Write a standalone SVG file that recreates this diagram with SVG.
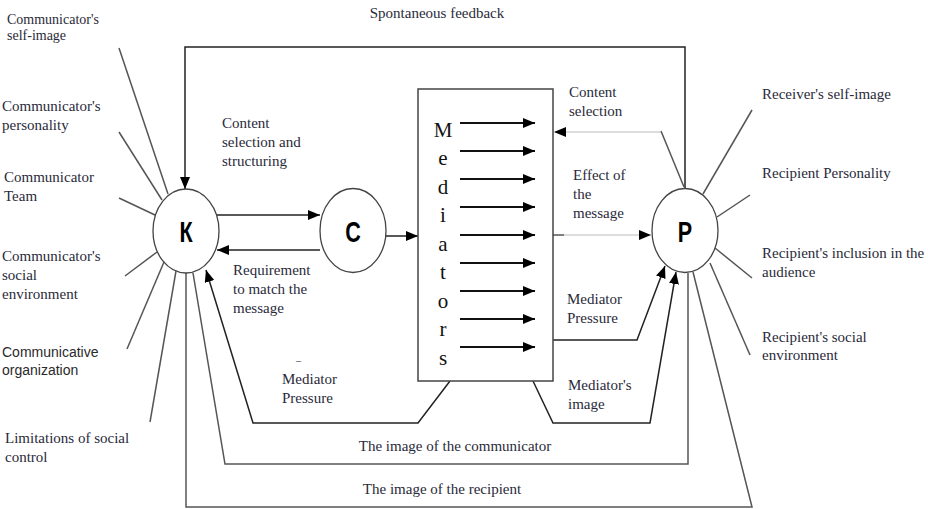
<svg xmlns="http://www.w3.org/2000/svg" width="928" height="509" viewBox="0 0 928 509">
<style>
.t{font-family:"Liberation Serif","Times New Roman",serif;font-size:15px;fill:#2a2a3a}
.s{font-family:"Liberation Sans",Arial,sans-serif;font-size:14px;fill:#2a2a2a}
.big{font-family:"Liberation Serif","Times New Roman",serif;font-size:21px;fill:#111}
.node{fill:#fff;stroke:#444;stroke-width:1.3}
.lbl{font-family:"Liberation Sans",Arial,sans-serif;font-weight:bold;font-size:30px;fill:#000}
.ln{fill:none;stroke:#555;stroke-width:1.5}
.lt{fill:none;stroke:#bbb;stroke-width:1.2}
.ar{fill:none;stroke:#222;stroke-width:1.5}
.ia{fill:none;stroke:#111;stroke-width:2}
</style>
<defs>
<marker id="ah" markerUnits="userSpaceOnUse" markerWidth="13" markerHeight="10" refX="12" refY="5" orient="auto">
<path d="M0,0 L12,5 L0,10 z" fill="#000"/>
</marker>
</defs>
<rect width="928" height="509" fill="#fff"/>

<g id="connectors">
<!-- spontaneous feedback -->
<path class="ar" d="M685,188 V47 H185 V189" marker-end="url(#ah)"/>
<!-- content selection -->
<path class="ln" d="M684,187 L661,131"/>
<path class="lt" d="M661,132 H555" />
<line x1="575" y1="132" x2="554" y2="132" stroke="none" marker-end="url(#ah)"/>
<!-- K to C, C to K -->
<line class="ar" x1="217" y1="215" x2="320" y2="215" marker-end="url(#ah)"/>
<line class="ar" x1="320" y1="250" x2="217" y2="250" marker-end="url(#ah)"/>
<!-- C to mediators -->
<line class="ar" x1="386" y1="236" x2="418" y2="236" marker-end="url(#ah)"/>
<!-- effect of message -->
<line class="ln" x1="553" y1="235" x2="564" y2="235"/>
<line class="lt" x1="564" y1="235" x2="651" y2="235" marker-end="url(#ah)"/>
<!-- mediator pressure right -->
<path class="ar" d="M553,340 H637 L665,266" marker-end="url(#ah)"/>
<!-- mediator's image -->
<path class="ar" d="M533,381 L553,423 H650 L676,272" marker-end="url(#ah)"/>
<!-- mediator pressure left -->
<path class="ar" d="M450,381 L418,423 H253 L206,270" marker-end="url(#ah)"/>
<!-- image of communicator -->
<path class="ln" d="M193,273 L225,464 H688 V273"/>
<!-- image of recipient -->
<path class="ln" d="M186,273 V507 H752 L693,272"/>
<!-- K radiating lines -->
<line class="ln" x1="119" y1="48" x2="168" y2="194"/>
<line class="ln" x1="119" y1="132" x2="162" y2="200"/>
<line class="ln" x1="119" y1="198" x2="155" y2="215"/>
<line class="ln" x1="125" y1="276" x2="157" y2="252"/>
<line class="ln" x1="127" y1="349" x2="164" y2="262"/>
<line class="ln" x1="150" y1="422" x2="176" y2="271"/>
<!-- P radiating lines -->
<line class="ln" x1="752" y1="110" x2="703" y2="194"/>
<line class="ln" x1="750" y1="195" x2="717" y2="217"/>
<line class="ln" x1="752" y1="278" x2="715" y2="248"/>
<line class="ln" x1="750" y1="355" x2="710" y2="263"/>
</g>

<g id="node-K">
<ellipse class="node" cx="186" cy="231" rx="33" ry="42"/>
<text class="lbl" transform="translate(186,242) scale(0.72,1)" text-anchor="middle">К</text>
</g>
<g id="node-C">
<ellipse class="node" cx="353" cy="230.5" rx="33" ry="42"/>
<text class="lbl" transform="translate(353,242) scale(0.72,1)" text-anchor="middle">С</text>
</g>
<g id="node-P">
<ellipse class="node" cx="685" cy="230.5" rx="33" ry="42"/>
<text class="lbl" transform="translate(685,242) scale(0.72,1)" text-anchor="middle">Р</text>
</g>

<g id="node-mediators">
<rect x="418" y="89" width="135" height="292" fill="#fff" stroke="#444" stroke-width="1.5"/>
<g class="big" text-anchor="middle">
<text x="443" y="137">M</text>
<text x="443" y="165">e</text>
<text x="443" y="194">d</text>
<text x="443" y="222">i</text>
<text x="443" y="251">a</text>
<text x="443" y="279">t</text>
<text x="443" y="308">o</text>
<text x="443" y="336">r</text>
<text x="443" y="365">s</text>
</g>
<g class="ia">
<line x1="460" y1="123" x2="535" y2="123" marker-end="url(#ah)"/>
<line x1="460" y1="151" x2="535" y2="151" marker-end="url(#ah)"/>
<line x1="460" y1="179" x2="535" y2="179" marker-end="url(#ah)"/>
<line x1="460" y1="207" x2="535" y2="207" marker-end="url(#ah)"/>
<line x1="460" y1="235" x2="535" y2="235" marker-end="url(#ah)"/>
<line x1="460" y1="263" x2="535" y2="263" marker-end="url(#ah)"/>
<line x1="460" y1="291" x2="535" y2="291" marker-end="url(#ah)"/>
<line x1="460" y1="319" x2="535" y2="319" marker-end="url(#ah)"/>
<line x1="460" y1="347" x2="535" y2="347" marker-end="url(#ah)"/>
</g>
</g>

<g id="labels">
<text class="t" x="437" y="18" text-anchor="middle">Spontaneous feedback</text>
<text class="t" style="font-size:14px" x="7" y="24">Communicator's</text>
<text class="t" style="font-size:14px" x="7" y="40">self-image</text>
<text class="t" x="2" y="111">Communicator's</text>
<text class="t" x="2" y="130">personality</text>
<text class="t" x="4" y="182">Communicator</text>
<text class="t" x="4" y="201">Team</text>
<text class="t" x="2" y="261">Communicator's</text>
<text class="t" x="2" y="280">social</text>
<text class="t" x="2" y="299">environment</text>
<text class="s" x="2" y="357">Communicative</text>
<text class="s" x="2" y="375">organization</text>
<text class="t" x="5" y="443">Limitations of social</text>
<text class="t" x="5" y="462">control</text>

<text class="t" x="222" y="128">Content</text>
<text class="t" x="222" y="147">selection and</text>
<text class="t" x="222" y="166">structuring</text>

<text class="t" x="233" y="275">Requirement</text>
<text class="t" x="233" y="294">to match the</text>
<text class="t" x="233" y="313">message</text>

<text class="t" style="font-size:10px" x="296" y="364">–</text>
<text class="t" x="282" y="384">Mediator</text>
<text class="t" x="282" y="403">Pressure</text>

<text class="t" x="569" y="97">Content</text>
<text class="t" x="569" y="116">selection</text>

<text class="t" x="573" y="180">Effect of</text>
<text class="t" x="573" y="199">the</text>
<text class="t" x="573" y="218">message</text>

<text class="t" x="567" y="304">Mediator</text>
<text class="t" x="567" y="323">Pressure</text>

<text class="t" x="568" y="390">Mediator's</text>
<text class="t" x="568" y="409">image</text>

<text class="t" x="455" y="451" text-anchor="middle">The image of the communicator</text>
<text class="t" x="442" y="494" text-anchor="middle">The image of the recipient</text>

<text class="t" x="762" y="99">Receiver's self-image</text>
<text class="t" x="762" y="178">Recipient Personality</text>
<text class="t" x="762" y="258">Recipient's inclusion in the</text>
<text class="t" x="762" y="277">audience</text>
<text class="t" x="762" y="342">Recipient's social</text>
<text class="t" x="762" y="360">environment</text>
</g>
</svg>
